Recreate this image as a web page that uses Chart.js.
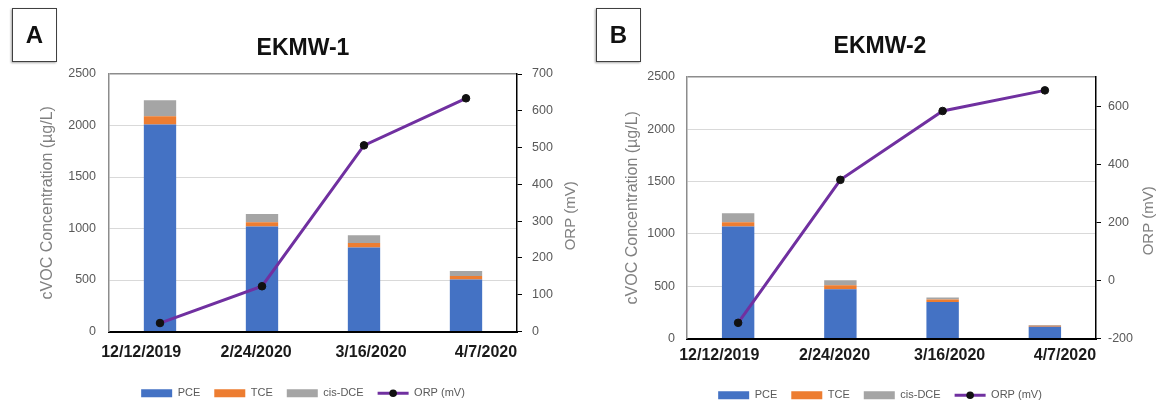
<!DOCTYPE html>
<html>
<head>
<meta charset="utf-8">
<title>EKMW-1 / EKMW-2 cVOC and ORP</title>
<script src="https://cdn.jsdelivr.net/npm/chart.js@4.4.1/dist/chart.umd.min.js"></script>
<style>
  html, body { margin: 0; padding: 0; background: #fff; }
  #wrap { position: relative; width: 1160px; height: 407px; overflow: hidden; }
  #wrap canvas { position: absolute; top: 0; }
  #chartA { left: 0; }
  #chartB { left: 580px; }
  .tag {
    position: absolute; top: 8px; width: 43px; height: 52px;
    border: 1.5px solid #404040; background: #fff; color: #111;
    box-shadow: -1px 1px 2px rgba(0, 0, 0, 0.35);
    font: bold 24px "Liberation Sans", Arial, sans-serif;
    display: flex; align-items: center; justify-content: center;
  }
</style>
</head>
<body>
<div id="wrap">
  <canvas id="chartA" width="580" height="407"></canvas>
  <canvas id="chartB" width="580" height="407"></canvas>
  <div class="tag" style="left:12px">A</div>
  <div class="tag" style="left:596px">B</div>
</div>
<script>
// sampling dates (shared by both wells)
const dates = ['12/12/2019', '2/24/2020', '3/16/2020', '4/7/2020'];

// EKMW-1, µg/L and mV
const pce1 = [2010, 1020, 815, 505];
const tce1 = [80, 40, 45, 35];
const dce1 = [155, 80, 75, 48];
const orp1 = [23, 123, 506, 634];

// EKMW-2, µg/L and mV
const pce2 = [1070, 470, 348, 112];
const tce2 = [42, 38, 26, 9];
const dce2 = [85, 48, 19, 9];
const orp2 = [-146, 346, 583, 654];

// axis ticks
const concTicks = [0, 500, 1000, 1500, 2000, 2500];
const orpTicks1 = [0, 100, 200, 300, 400, 500, 600, 700];
const orpTicks2 = [-200, 0, 200, 400, 600];

const FONT = '"Liberation Sans", Arial, sans-serif';
Chart.defaults.font.family = FONT;
Chart.defaults.color = '#595959';

const PCE_COLOR = '#4472C4';
const TCE_COLOR = '#ED7D31';
const DCE_COLOR = '#A5A5A5';
const ORP_COLOR = '#7030A0';

// legend entry for the line series: a short line with the marker on it
const orpLegendGlyph = {
  id: 'orpLegendGlyph',
  afterDraw(chart) {
    const lg = chart.legend;
    if (!lg || !lg.legendItems) return;
    const ctx = chart.ctx;
    const bw = lg.options.labels.boxWidth;
    lg.legendItems.forEach((item, i) => {
      const ds = chart.data.datasets[item.datasetIndex];
      if (ds.type !== 'line') return;
      const hb = lg.legendHitBoxes[i];
      const y = hb.top + hb.height / 2;
      ctx.save();
      ctx.strokeStyle = ds.borderColor;
      ctx.lineWidth = ds.borderWidth;
      ctx.beginPath();
      ctx.moveTo(hb.left, y);
      ctx.lineTo(hb.left + bw, y);
      ctx.stroke();
      ctx.fillStyle = ds.pointBackgroundColor;
      ctx.beginPath();
      ctx.arc(hb.left + bw / 2, y, ds.pointRadius, 0, Math.PI * 2);
      ctx.fill();
      ctx.restore();
    });
  }
};

// caption of the right axis, reading bottom to top like the left one
const rightCaption = {
  id: 'rightCaption',
  afterDraw(chart, args, opts) {
    const { ctx, chartArea } = chart;
    ctx.save();
    ctx.translate(chart.width - opts.offset, (chartArea.top + chartArea.bottom) / 2 + opts.shift);
    ctx.rotate(-Math.PI / 2);
    ctx.font = '15px ' + FONT;
    ctx.fillStyle = '#808080';
    ctx.textAlign = 'center';
    ctx.textBaseline = 'middle';
    ctx.fillText(opts.text, 0, 0);
    ctx.restore();
  }
};

function legendLabels(chart) {
  const items = Chart.defaults.plugins.legend.labels.generateLabels(chart);
  items.forEach((it) => {
    if (chart.data.datasets[it.datasetIndex].type === 'line') {
      it.fillStyle = 'rgba(0,0,0,0)';
      it.strokeStyle = 'rgba(0,0,0,0)';
      it.lineWidth = 0;
    }
  });
  return items;
}

function panel(id, name, pce, tce, dce, orp, orpTicks, orpMax, lay) {
  return new Chart(document.getElementById(id), {
    data: {
      labels: dates,
      datasets: [
        { type: 'bar', label: 'PCE', data: pce, backgroundColor: PCE_COLOR, xAxisID: 'x', yAxisID: 'y', order: 1 },
        { type: 'bar', label: 'TCE', data: tce, backgroundColor: TCE_COLOR, xAxisID: 'x', yAxisID: 'y', order: 1 },
        { type: 'bar', label: 'cis-DCE', data: dce, backgroundColor: DCE_COLOR, xAxisID: 'x', yAxisID: 'y', order: 1 },
        {
          type: 'line', label: 'ORP (mV)', data: orp, xAxisID: 'x', yAxisID: 'y1', order: 0,
          borderColor: ORP_COLOR, backgroundColor: ORP_COLOR, borderWidth: 3, tension: 0,
          pointRadius: 3.8, pointBackgroundColor: '#111', pointBorderColor: '#111', pointBorderWidth: 1
        }
      ]
    },
    options: {
      responsive: false,
      animation: false,
      devicePixelRatio: 1,
      datasets: { bar: { barPercentage: 0.317, categoryPercentage: 1, borderWidth: 0 } },
      layout: { padding: { left: lay.padL, right: 0, top: 0, bottom: lay.padB } },
      plugins: {
        title: {
          display: true, text: name, color: '#111',
          font: { size: 23, weight: 'bold' },
          padding: { top: lay.titleTop, bottom: lay.titleBottom }
        },
        legend: {
          position: 'bottom',
          labels: {
            boxWidth: 31, boxHeight: 8, padding: 14, color: '#595959',
            font: { size: 11 },
            sort: (a, b) => a.datasetIndex - b.datasetIndex,
            generateLabels: legendLabels
          }
        },
        tooltip: { enabled: false },
        rightCaption: { text: 'ORP (mV)', offset: lay.capOffset, shift: 13 }
      },
      scales: {
        x: { display: false, stacked: true, offset: true },
        // date labels sit on their own axis, spread a little wider than the bars
        xl: {
          type: 'linear', position: 'bottom', min: -0.28, max: 3.27,
          afterBuildTicks: (s) => { s.ticks = dates.map((d, i) => ({ value: i })); },
          afterFit: (s) => { s.height = lay.labelH; },
          grid: { display: false, drawTicks: false },
          border: { color: '#000', width: 2 },
          ticks: {
            padding: lay.labelPad, color: '#1a1a1a', maxRotation: 0, autoSkip: false,
            font: { size: 16, weight: 'bold' },
            callback: (v) => dates[v]
          }
        },
        y: {
          position: 'left', stacked: true,
          min: concTicks[0], max: concTicks[concTicks.length - 1],
          afterBuildTicks: (s) => { s.ticks = concTicks.map((v) => ({ value: v })); },
          afterFit: (s) => { s.width = lay.leftW; },
          ticks: { padding: lay.leftTickPad, color: '#595959', font: { size: 12.5 }, callback: (v) => String(v) },
          grid: {
            drawTicks: false,
            color: (c) => {
              const v = c.tick ? c.tick.value : null;
              if (v === 0) return 'rgba(0,0,0,0)';
              return v === 2500 ? '#8c8c8c' : '#d9d9d9';
            },
            lineWidth: (c) => (c.tick && c.tick.value === 2500 ? 1.5 : 1)
          },
          border: { color: '#8c8c8c', width: 1.5 },
          title: {
            display: true, text: 'cVOC Concentration (µg/L)', color: '#808080',
            font: { size: 16 }, padding: { top: lay.leftTitlePad, bottom: 0 }
          }
        },
        y1: {
          position: 'right',
          min: orpTicks[0], max: orpMax,
          afterBuildTicks: (s) => { s.ticks = orpTicks.map((v) => ({ value: v })); },
          afterFit: (s) => { s.width = lay.rightW; },
          ticks: { padding: lay.rightTickPad, color: '#595959', font: { size: 12.5 }, callback: (v) => String(v) },
          grid: { drawOnChartArea: false, drawTicks: true, tickLength: 5, color: '#000', lineWidth: 1 },
          border: { color: '#000', width: 1.5 }
        }
      }
    },
    plugins: [orpLegendGlyph, rightCaption]
  });
}

panel('chartA', 'EKMW-1', pce1, tce1, dce1, orp1, orpTicks1, 700, {
  padL: 26, padB: -1.75, leftW: 83, rightW: 63,
  leftTitlePad: 12.4, leftTickPad: 13, rightTickPad: 10, capOffset: 9,
  titleTop: 35.2, titleBottom: 11.2, labelH: 42.25, labelPad: 11.4
});

panel('chartB', 'EKMW-2', pce2, tce2, dce2, orp2, orpTicks2, 700, {
  padL: 20, padB: -3.75, leftW: 87, rightW: 64,
  leftTitlePad: 23.4, leftTickPad: 12, rightTickPad: 7, capOffset: 11.5,
  titleTop: 33.2, titleBottom: 16.2, labelH: 37.25, labelPad: 7.4
});
</script>
</body>
</html>
